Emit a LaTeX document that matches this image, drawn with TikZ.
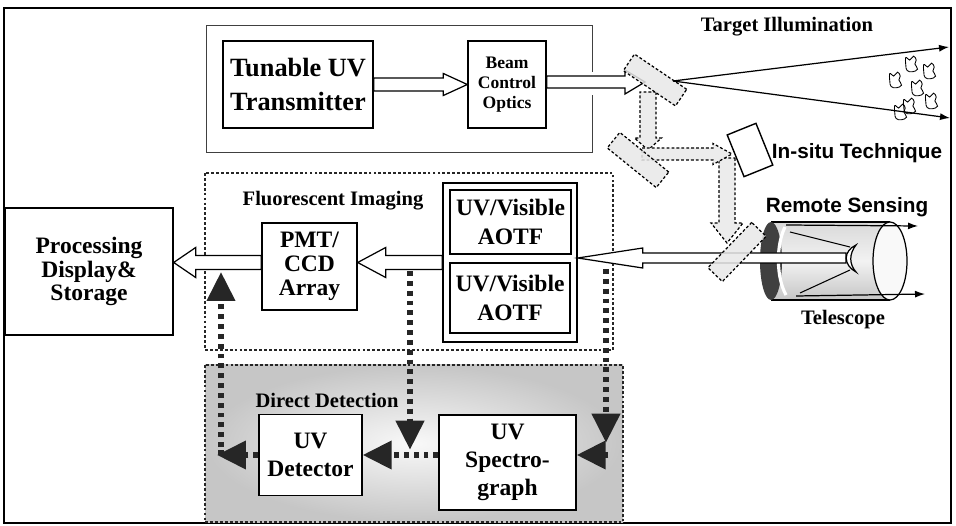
\documentclass[tikz,border=0pt]{standalone}
\usepackage{fontspec}
\setmainfont{Liberation Serif}
\setsansfont{Liberation Sans}
\usetikzlibrary{arrows.meta,calc,positioning}

% hollow block arrow: [style]{from}{to}{half shaft}{half head}{head length}
\newcommand{\hollowarrow}[6][]{%
  \path (#2) coordinate (ha-s) (#3) coordinate (ha-e);
  \path ($(ha-e)!#6!(ha-s)$) coordinate (ha-q);
  \draw[hollow,#1] ($(ha-s)!#4!90:(ha-e)$) -- ($(ha-q)!#4!90:(ha-e)$)
    -- ($(ha-q)!#5!90:(ha-e)$) -- (ha-e) -- ($(ha-q)!#5!-90:(ha-e)$)
    -- ($(ha-q)!#4!-90:(ha-e)$) -- ($(ha-s)!#4!-90:(ha-e)$) -- cycle;
}

\tikzset{
  block/.style={draw, line width=0.8pt, fill=white, align=center, inner sep=0pt},
  bigtxt/.style={font=\bfseries\fontsize{15}{19}\selectfont},
  midtxt/.style={font=\bfseries\fontsize{13.4}{16}\selectfont},
  tighttxt/.style={font=\bfseries\fontsize{13.4}{13.6}\selectfont},
  smalltxt/.style={font=\bfseries\fontsize{10}{11.5}\selectfont},
  lbl/.style={font=\bfseries\fontsize{11.7}{13}\selectfont},
  slbl/.style={font=\sffamily\bfseries\fontsize{11.8}{13}\selectfont},
  grouprect/.style={draw=black!75, line width=0.5pt},
  dashbox/.style={draw=black!85, line width=0.6pt, dash pattern=on 1.6pt off 1.2pt},
  hollow/.style={draw, fill=white, line width=0.7pt},
  beam/.style={hollow, fill=gray!15, dash pattern=on 1.6pt off 1.2pt},
  mirror/.style={draw, fill=gray!18, fill opacity=0.85, line width=0.7pt,
    dash pattern=on 1.6pt off 1.2pt, minimum width=1.26cm, minimum height=0.4cm, inner sep=0pt},
  sig/.style={draw=black!85, line width=3.2pt, dash pattern=on 2.8pt off 2.8pt,
    -{Triangle[length=0.58cm 0 0,width=0.55cm 0 0]}},
  ray/.style={line width=0.7pt, -{Latex[length=0.2cm,width=0.14cm]}},
  speck/.pic={\draw[line width=0.5pt, scale=1.3] plot[smooth cycle, tension=0.7]
    coordinates {(-4,-5) (-1,-3) (2,-6) (4,-3) (3,0) (5,4) (1,6) (-3,5) (-4,1)};},
}

\begin{document}
\begin{tikzpicture}[x=0.02cm, y=-0.02cm]
\useasboundingbox (0,0) rectangle (956,526);
% frame
\draw[line width=1.3pt] (4,8) rectangle (951,523);

% group outlines
\draw[grouprect] (592,72) -- (592,25) -- (206,25) -- (206,152) -- (592,152) -- (592,95);
\draw[dashbox] (205,173) rectangle (613,350);
\shade[inner color=gray!5, outer color=gray!45] (205,365) rectangle (623,522);
\draw[dashbox] (205,365) rectangle (623,522);

\node[lbl] at (333,201) {Fluorescent Imaging};
\node[lbl] at (327,400) {Direct Detection};
\node[lbl] at (787,27) {Target Illumination};
\node[slbl] at (857,153) {In-situ Technique};
\node[slbl] at (847,207) {Remote Sensing};
\node[lbl] at (843,320) {Telescope};

% blocks
\node[block, bigtxt, minimum width=3cm, minimum height=1.74cm] (tx) at (298,84.5) {Tunable UV\\Transmitter};
\node[block, smalltxt, minimum width=1.56cm, minimum height=1.74cm] (bco) at (507,84.5) {Beam\\Control\\Optics};
\node[block, tighttxt, minimum width=3.36cm, minimum height=2.54cm] (proc) at (89,271.5) {Processing\\Display\&\\Storage};
\node[block, tighttxt, minimum width=1.9cm, minimum height=1.74cm] (pmt) at (309.5,266.5) {PMT/\\CCD\\Array};
\node[block, minimum width=2.68cm, minimum height=3.18cm] (aotf) at (510,262.5) {};
\node[block, midtxt, minimum width=2.42cm, minimum height=1.28cm] (aotf1) at (510.5,222) {UV/Visible\\AOTF};
\node[block, midtxt, minimum width=2.4cm, minimum height=1.4cm] (aotf2) at (510,298) {UV/Visible\\AOTF};
\node[block, midtxt, minimum width=2.06cm, minimum height=1.62cm] (det) at (310.5,455) {UV\\Detector};
\node[block, midtxt, minimum width=2.74cm, minimum height=1.9cm] (spec) at (507.5,462.5) {UV\\Spectro-\\graph};

% beam steering
\coordinate (b1s) at (648,92);
\coordinate (b1e) at (648,150);
\coordinate (b2s) at (642,154);
\coordinate (b2e) at (732,154);
\coordinate (b3s) at (727,158);
\coordinate (b3e) at (727,243);
\hollowarrow[beam]{b1s}{b1e}{0.16cm}{0.27cm}{0.24cm}
\hollowarrow[beam]{b3s}{b3e}{0.16cm}{0.32cm}{0.4cm}
\hollowarrow[beam]{b2s}{b2e}{0.12cm}{0.21cm}{0.38cm}
\node[draw, line width=0.8pt, fill=white, rotate=22, minimum width=0.62cm, minimum height=0.9cm, inner sep=0pt] (insitu) at (750,150) {};

\hollowarrow{tx.east}{bco.west}{0.13cm}{0.22cm}{0.48cm}
\coordinate (m1in) at (645,82);
\hollowarrow{bco.east |- m1in}{m1in}{0.12cm}{0.24cm}{0.4cm}

% mirrors 1 and 2
\node[mirror, rotate=-34] (m1) at (655,80) {};
\node[mirror, rotate=-39] (m2) at (638,160) {};

% illumination cone
\coordinate (m1out) at (673,81);
\coordinate (tgthi) at (949,47);
\coordinate (tgtlo) at (950,118);
\draw[ray] (m1out) -- (tgthi);
\draw[ray] (m1out) -- (tgtlo);
\foreach \p in {(895,80),(911,64),(929,71),(917,88),(909,106),(931,101),(900,112)}
  \pic at \p {speck};

% telescope
\shade[top color=gray!30, bottom color=gray!45, middle color=gray!10] (771,222) rectangle (890,300);
\draw[line width=0.8pt] (771,222) -- (890,222) (771,300) -- (890,300);
\draw[fill=gray!5, line width=0.7pt] (890,261) ellipse [x radius=17, y radius=39];
\fill[black!75] (771,261) ellipse [x radius=11, y radius=39];
\draw[white, line width=1.8pt] (785,227) .. controls (776,245) and (776,277) .. (786,295);
\coordinate (tsec) at (846,258);
\hollowarrow{tsec}{aotf.east |- tsec}{0.1cm}{0.2cm}{1.3cm}
\draw[fill=white, line width=0.7pt] (856,245) .. controls (843,251) and (843,265) .. (856,272)
  .. controls (849,264) and (849,254) .. cycle;
\draw[line width=0.6pt] (790,232) -- (850,247) (850,270) -- (800,293);
\coordinate (ttop) at (786,225);
\coordinate (tbot) at (796,296);
\draw[ray] (ttop) -- (918,226);
\draw[ray] (tbot) -- (925,294);
\node[mirror, rotate=46] (m3) at (737,252) {};

% block arrows in the imaging chain
\hollowarrow{aotf.west}{pmt.east |- aotf.west}{0.14cm}{0.3cm}{0.56cm}
\hollowarrow{pmt.west |- aotf.west}{proc.east |- aotf.west}{0.14cm}{0.3cm}{0.44cm}

% direct detection signal paths
\coordinate (upl) at (221,272);
\coordinate (midtop) at (410,271);
\coordinate (rtop) at (606,269);
\draw[sig] (spec.west |- det.east) -- (det.east);
\draw[sig] (det.west) -- (det.west -| 217,0);
\draw[sig, -] (upl |- det.west) -- ++(0,-8);
\draw[sig] ($(upl |- det.west)+(0,-8)$) -- (upl);
\draw[sig, shorten >=3pt] (midtop) -- (midtop |- det.east);
\draw[sig, shorten >=7pt] (rtop) -- (rtop |- det.east);
\draw[sig] ($(rtop |- det.east)+(2,0)$) -- (spec.east |- det.east);
\end{tikzpicture}
\end{document}
